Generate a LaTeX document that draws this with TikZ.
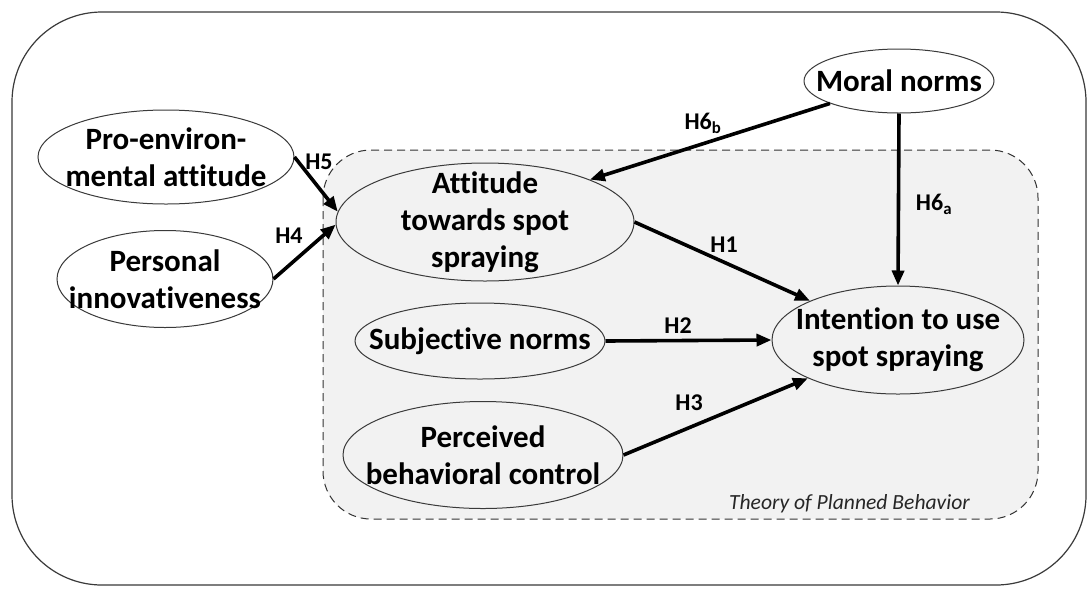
\documentclass[tikz,border=0pt]{standalone}
\usepackage{fontspec}
\setmainfont{Carlito}[Ligatures={NoCommon}]
\usetikzlibrary{arrows.meta,shapes.geometric}
\definecolor{tpbfill}{HTML}{F2F2F2}
\definecolor{edgegray}{HTML}{3A3A3A}
\tikzset{
  construct/.style={ellipse, draw=edgegray, line width=1pt, inner sep=0pt},
  ctext/.style={inner sep=0pt, align=center, font=\fontsize{31}{37}\selectfont\bfseries, text=black},
  hyp/.style={-{Triangle[length=15pt,width=12pt]}, line width=3.6pt, black},
  hlabel/.style={font=\fontsize{24}{27}\selectfont\bfseries, inner sep=0pt, text=black},
}
\begin{document}
\begin{tikzpicture}[x=1pt,y=-1pt]
\useasboundingbox (0,0) rectangle (1091,590);
\fill[white] (0,0) rectangle (1091,590);
% outer frame
\draw[edgegray, line width=1.2pt, rounded corners=90pt] (12,12) rectangle (1086,585);
% TPB region
\draw[black!80, fill=tpbfill, line width=1pt, dash pattern=on 8pt off 5pt, rounded corners=48pt]
  (323,150) rectangle (1038,519);
\node[font=\fontsize{21.6}{24}\selectfont\itshape, text=black!85, anchor=base east, inner sep=0pt] (tpb) at (970,509) {Theory of Planned Behavior};
% constructs (ellipses)
\node[construct, minimum width=256pt, minimum height=94pt] (pro) at (166,157) {};
\node[construct, minimum width=216pt, minimum height=97pt] (pers) at (165,279) {};
\node[construct, minimum width=298pt, minimum height=118pt] (att) at (485,222) {};
\node[construct, minimum width=190pt, minimum height=64pt] (moral) at (899,81) {};
\node[construct, minimum width=252pt, minimum height=108pt] (int) at (898,340) {};
\node[construct, minimum width=250pt, minimum height=76pt] (subj) at (480,341) {};
\node[construct, minimum width=280pt, minimum height=107pt] (perc) at (483,455) {};
% construct texts
\node[ctext] (pro-t) at (pro) {Pro-environ-\\mental attitude};
\node[ctext] (pers-t) at (pers) {Personal\\innovativeness};
\node[ctext] (att-t) at (att) {Attitude\\towards spot\\spraying};
\node[ctext] (moral-t) at (moral) {Moral norms};
\node[ctext] (int-t) at (int) {Intention to use\\spot spraying};
\node[ctext] (subj-t) at (subj) {Subjective norms};
\node[ctext] (perc-t) at (perc) {Perceived\\behavioral control};
% hypotheses
\draw[hyp] (pro.east) -- (att.176);
\draw[hyp] (pers.east) -- (att.181);
\draw[hyp] (moral.198) -- (att.22);
\draw[hyp] (moral.south) -- (int.north);
\draw[hyp] (att.east) -- (int.156);
\draw[hyp] (subj.east) -- (int.west);
\draw[hyp] (perc.east) -- (int.203);
% labels
\node[hlabel] (l5) at (319,162) {H5};
\node[hlabel] (l4) at (289,236) {H4};
\node[hlabel] (l6b) at (703,123) {H6\textsubscript{b}};
\node[hlabel] (l6a) at (934,204) {H6\textsubscript{a}};
\node[hlabel] (l1) at (724,245) {H1};
\node[hlabel] (l2) at (678,326) {H2};
\node[hlabel] (l3) at (689,403) {H3};
\end{tikzpicture}
\end{document}
